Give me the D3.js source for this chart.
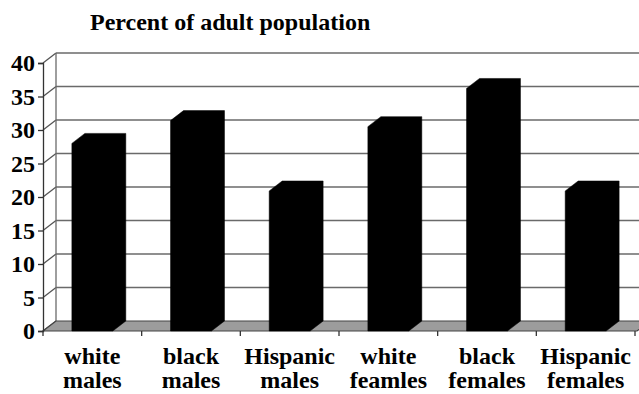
<!DOCTYPE html>
<html>
<head>
<meta charset="utf-8">
<script src="https://cdn.jsdelivr.net/npm/d3@7"></script>
<style>
  body { margin: 0; background: #fff; }
  svg text { font-family: "Liberation Serif", "Times New Roman", serif; font-weight: bold; fill: #000; }
</style>
</head>
<body>
<div id="chart"></div>
<script>
// data
var categories = ["white males", "black males", "Hispanic males", "white feamles", "black females", "Hispanic females"];
var values = [28.0, 31.4, 20.9, 30.5, 36.2, 20.9];
var yTicks = [0, 5, 10, 15, 20, 25, 30, 35, 40];
var title = "Percent of adult population";

var width = 639, height = 394;
var plotLeft = 43, plotRight = 635, plotBottom = 331, plotTop = 63;
var dx = 13, dy = -10;   // depth offset of the 3d box

var svg = d3.select("#chart").append("svg")
    .attr("width", width)
    .attr("height", height);

var x = d3.scaleBand().domain(categories).range([plotLeft, plotRight]);
var y = d3.scaleLinear().domain([0, 40]).range([plotBottom, plotTop]);

// back wall gridlines
svg.append("g").selectAll("line.grid")
    .data(yTicks.filter(function(d) { return d > 0; }))
  .enter().append("line")
    .attr("x1", plotLeft + dx)
    .attr("x2", width + 20)
    .attr("y1", function(d) { return y(d) + dy; })
    .attr("y2", function(d) { return y(d) + dy; })
    .attr("stroke", "#6a6a6a")
    .attr("stroke-width", 1.5);

// left wall diagonals
svg.append("g").selectAll("line.diag")
    .data(yTicks)
  .enter().append("line")
    .attr("x1", plotLeft)
    .attr("x2", plotLeft + dx)
    .attr("y1", function(d) { return y(d); })
    .attr("y2", function(d) { return y(d) + dy; })
    .attr("stroke", "#555")
    .attr("stroke-width", 1.3);

// back left edge
svg.append("line")
    .attr("x1", plotLeft + dx).attr("x2", plotLeft + dx)
    .attr("y1", y(0) + dy).attr("y2", y(40) + dy)
    .attr("stroke", "#6a6a6a").attr("stroke-width", 1.3);

// floor
svg.append("path")
    .attr("d", "M" + plotLeft + "," + y(0) + "L" + (plotRight + 2) + "," + y(0) +
               "L" + (plotRight + 2 + dx) + "," + (y(0) + dy) + "L" + (plotLeft + dx) + "," + (y(0) + dy) + "Z")
    .attr("fill", "#9c9c9c")
    .attr("stroke", "#444")
    .attr("stroke-width", 1.2);

// bars
var bw = x.bandwidth() * 0.415;
svg.append("g").selectAll("path.bar")
    .data(values)
  .enter().append("path")
    .attr("class", "bar")
    .attr("fill", "#000")
    .attr("stroke", "#000")
    .attr("stroke-width", 0.5)
    .attr("d", function(d, i) {
      var cx = x(categories[i]) + x.bandwidth() / 2;
      var x0 = cx - bw / 2, x1 = cx + bw / 2, yt = y(d), yb = y(0);
      return "M" + x0 + "," + yb + "L" + x0 + "," + yt +
             "L" + (x0 + dx) + "," + (yt + dy) + "L" + (x1 + dx) + "," + (yt + dy) +
             "L" + (x1 + dx) + "," + (yb + dy) + "L" + x1 + "," + yb + "Z";
    });

// front y axis
var yAxis = svg.append("g")
    .attr("transform", "translate(" + plotLeft + ",0)")
    .call(d3.axisLeft(y).tickValues(yTicks).tickSize(5).tickPadding(3));
yAxis.select(".domain").attr("stroke", "#333").attr("stroke-width", 1.3);
yAxis.selectAll(".tick line").attr("stroke", "#333").attr("stroke-width", 1.3);
yAxis.selectAll(".tick text")
    .attr("font-family", "Liberation Serif, serif")
    .attr("font-weight", "bold")
    .attr("font-size", 24)
    .attr("fill", "#000")
    .attr("dy", "0.33em");

// x axis ticks on the floor front edge
var xAxis = svg.append("g")
    .attr("transform", "translate(0," + y(0) + ")");
xAxis.selectAll("line")
    .data(d3.range(categories.length + 1))
  .enter().append("line")
    .attr("x1", function(i) { return plotLeft + i * x.step(); })
    .attr("x2", function(i) { return plotLeft + i * x.step(); })
    .attr("y1", 0).attr("y2", 5)
    .attr("stroke", "#333").attr("stroke-width", 1.3);

// category labels on two lines
var labels = svg.append("g").selectAll("text.cat")
    .data(categories)
  .enter().append("text")
    .attr("class", "cat")
    .attr("text-anchor", "middle")
    .attr("font-size", 24)
    .attr("x", function(d) { return x(d) + x.bandwidth() / 2; });
labels.append("tspan")
    .attr("x", function(d) { return x(d) + x.bandwidth() / 2; })
    .attr("y", 364)
    .text(function(d) { return d.split(" ")[0]; });
labels.append("tspan")
    .attr("x", function(d) { return x(d) + x.bandwidth() / 2; })
    .attr("y", 388)
    .text(function(d) { return d.split(" ")[1]; });

// title
svg.append("text")
    .attr("x", 90)
    .attr("y", 30)
    .attr("font-size", 24)
    .text(title);
</script>
</body>
</html>
